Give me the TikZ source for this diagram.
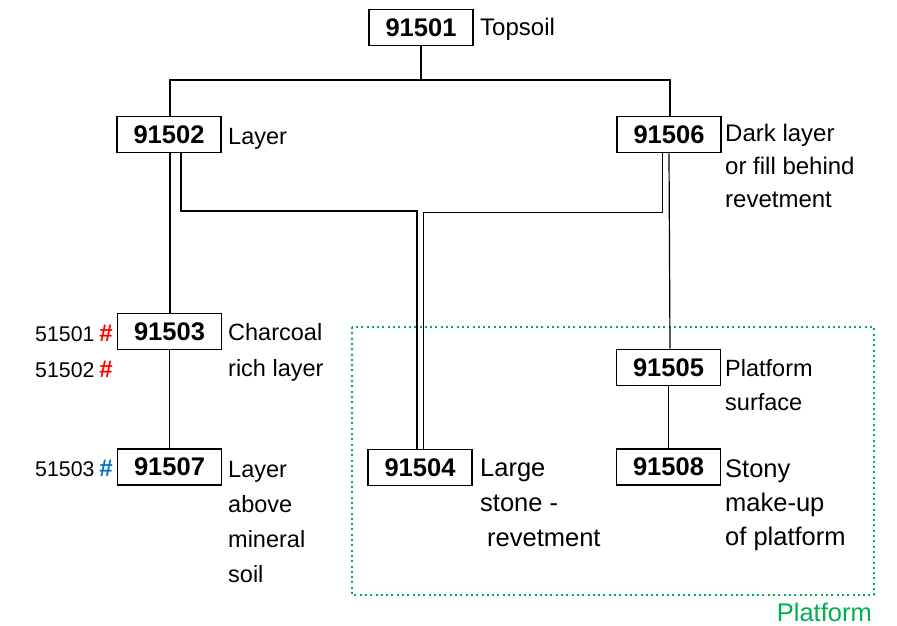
\documentclass[tikz,border=0pt]{standalone}
\usepackage{fontspec}
\setmainfont{Liberation Sans}
\definecolor{platgreen}{HTML}{00B050}
\definecolor{hashred}{HTML}{FF0000}
\definecolor{hashblue}{HTML}{0070C0}
\newcommand\desclines[1]{\vtop{\halign{##\hfil\cr#1\crcr}}}
\newcommand\hashmark[1]{\kern5pt{\bfseries\fontsize{24}{24}\selectfont\color{#1}\#}}
\tikzset{
  unitbox/.style={draw, line width=1.7pt, minimum width=104pt, minimum height=36pt, inner sep=0pt, font=\fontsize{25.5}{30}\selectfont\bfseries},
  desc/.style={anchor=base west, inner sep=0pt, font=\fontsize{23.5}{34}\selectfont},
  sample/.style={anchor=base east, inner sep=0pt, font=\fontsize{21.3}{24}\selectfont},
  conn/.style={line width=1.2pt},
  zone/.style={draw=platgreen, line width=2pt, dash pattern=on 2pt off 3.3pt}
}
\begin{document}
\begin{tikzpicture}[x=1pt,y=-1pt]
\useasboundingbox (0,0) rectangle (897,626);
% boxes
\node[unitbox] (n1) at (421,27.5) {91501};
\node[unitbox] (n2) at (169,134.5) {91502};
\node[unitbox] (n6) at (669,134.5) {91506};
\node[unitbox] (n3) at (169.5,331.5) {91503};
\node[unitbox] (n7) at (169.5,467) {91507};
\node[unitbox] (n4) at (420,467.5) {91504};
\node[unitbox] (n5) at (668.5,367.5) {91505};
\node[unitbox] (n8) at (668.5,467) {91508};
% descriptions
\node[desc, font=\fontsize{24}{34}\selectfont] (d1) at (480,36) {Topsoil};
\node[desc] (d2) at (228,144) {Layer};
\node[desc, font=\fontsize{24}{33}\selectfont] (d6) at (725,141) {\desclines{Dark layer\cr or fill behind\cr revetment}};
\node[desc, font=\fontsize{23.5}{36}\selectfont] (d3) at (228,340) {\desclines{Charcoal\cr rich layer}};
\node[desc, font=\fontsize{23.5}{35}\selectfont] (d7) at (228,477) {\desclines{Layer\cr above\cr mineral\cr soil}};
\node[desc, font=\fontsize{25.5}{35}\selectfont] (d4) at (480,476) {\desclines{Large\cr stone -\cr \hspace{7pt}revetment}};
\node[desc] (d5) at (725,376) {\desclines{Platform\cr surface}};
\node[desc, font=\fontsize{25.5}{34}\selectfont] (d8) at (725,477) {\desclines{Stony\cr make-up\cr of platform}};
% sample labels
\node[sample] (s1) at (113,341) {51501\hashmark{hashred}};
\node[sample] (s2) at (113,377) {51502\hashmark{hashred}};
\node[sample] (s3) at (113,476) {51503\hashmark{hashblue}};
% platform zone
\draw[zone] (352,327) rectangle (874,595);
\node[anchor=base east, inner sep=0pt, text=platgreen, font=\fontsize{25.5}{28}\selectfont] (pl) at (872,621) {Platform};
% connectors
\coordinate (j1) at (421,80);
\draw[conn] (n1.south) -- (j1);
\draw[conn] ([xshift=1pt]n2.north) |- (j1) -| ([xshift=1pt]n6.north);
\draw[conn] ([xshift=1pt]n2.south) -- ([xshift=0.5pt]n3.north);
\draw[conn] ([xshift=12pt]n2.south) |- ([xshift=-3pt]n4.north |- 0,211) -- ([xshift=-3pt]n4.north);
\draw[conn] ([xshift=-6.5pt]n6.south) |- ([xshift=3.5pt]n4.north |- 0,212.5) -- ([xshift=3.5pt]n4.north);
\draw[conn] (n6.south) -- ([xshift=1.5pt]n5.north);
\draw[conn] (n3.south) -- (n7.north);
\draw[conn] (n5.south) -- (n8.north);
\end{tikzpicture}
\end{document}
